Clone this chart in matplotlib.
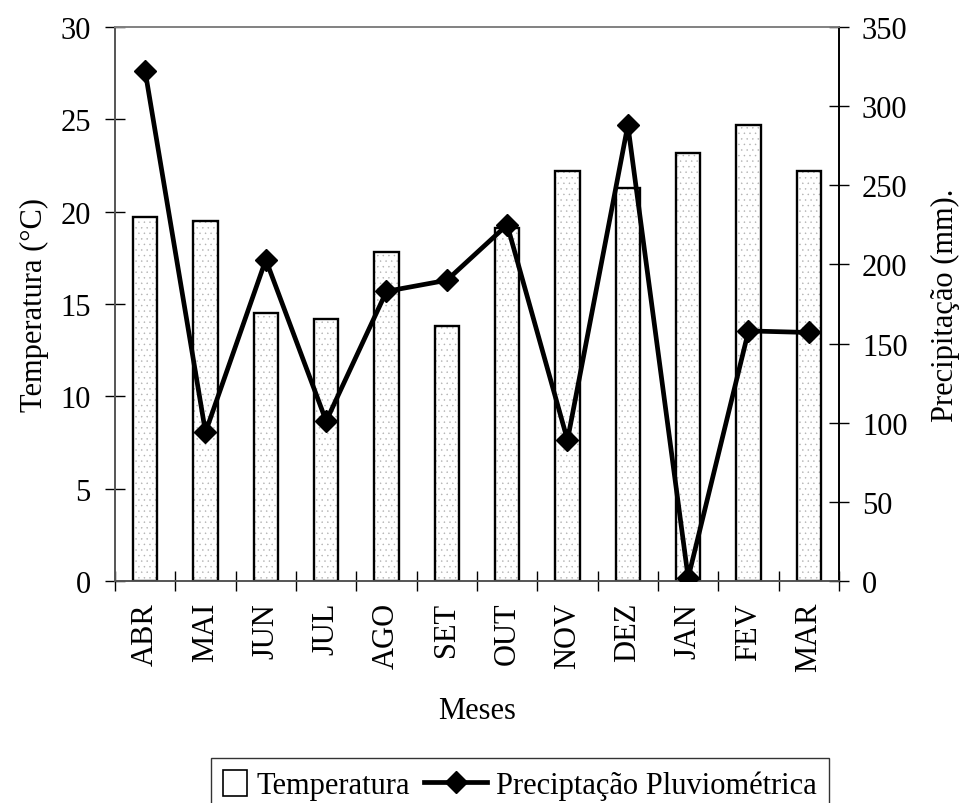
import numpy as np
import matplotlib
matplotlib.use('Agg')
import matplotlib.pyplot as plt
from matplotlib.patches import Rectangle
from matplotlib.lines import Line2D
from matplotlib.legend_handler import HandlerPatch, HandlerLine2D

meses = ['ABR', 'MAI', 'JUN', 'JUL', 'AGO', 'SET', 'OUT', 'NOV', 'DEZ', 'JAN', 'FEV', 'MAR']
temperatura = [19.7, 19.5, 14.5, 14.2, 17.8, 13.8, 19.1, 22.2, 21.3, 23.2, 24.7, 22.2]
precipitacao = [322, 94, 203, 101, 183, 190, 225, 89, 288, 2, 158, 157]

plt.rcParams['font.family'] = ['Liberation Serif', 'DejaVu Serif']
plt.rcParams['font.size'] = 22
plt.rcParams['hatch.linewidth'] = 0.3

fig = plt.figure(figsize=(9.59, 8.04), dpi=100)
ax = fig.add_axes([115 / 959, 1 - 582 / 804, 724 / 959, 554 / 804])
ax2 = ax.twinx()

x = np.arange(len(meses))

# barras: pontilhado cinza + contorno preto
ax.bar(x, temperatura, width=0.4, color='white', edgecolor='#b0b0b0',
       hatch='...', linewidth=0, zorder=2)
ax.bar(x, temperatura, width=0.4, fill=False, edgecolor='black',
       linewidth=1.7, zorder=3)

linha, = ax2.plot(x, precipitacao, color='black', linewidth=3.4,
                  marker='D', markersize=11, zorder=4)

ax.set_xlim(-0.5, len(meses) - 0.5)
ax.set_ylim(0, 30)
ax2.set_ylim(0, 350)
ax.set_yticks(np.arange(0, 31, 5))
ax2.set_yticks(np.arange(0, 351, 50))

ax.set_xticks(x)
ax.set_xticklabels(meses, rotation=90)
ax.set_xticks(np.arange(-0.5, len(meses), 1), minor=True)
ax.tick_params(axis='x', which='major', length=0, pad=15)
ax.tick_params(axis='x', which='minor', direction='inout', length=15, width=1)
ax.tick_params(axis='y', direction='inout', length=15, width=1, pad=10)
ax2.tick_params(axis='y', direction='inout', length=15, width=1, pad=9)

for s in ['top', 'bottom', 'left']:
    ax.spines[s].set_color('#555555')
    ax2.spines[s].set_color('#555555')
ax2.spines['top'].set_color('#888888')
ax2.spines['right'].set_color('black')
for a in (ax, ax2):
    for s in a.spines.values():
        s.set_linewidth(1.2)

ax.set_xlabel('Meses', labelpad=18)
ax.set_ylabel('Temperatura (°C)', labelpad=8)
ax2.set_ylabel('Precipitação (mm).', labelpad=17)


# legenda: caixa pequena e linha mais comprida (como no Excel)
# (unidades da caixa da legenda em pontos)
def caixa(legend, orig_handle, xdescent, ydescent, width, height, fontsize):
    return Rectangle((-xdescent, -ydescent - 2), width, height + 3)


class LinhaLonga(HandlerLine2D):
    def get_xdata(self, legend, xdescent, ydescent, width, height, fontsize):
        esq = 28
        xdata = np.array([-xdescent - esq, -xdescent + width])
        return xdata, np.array([-xdescent + (width - esq) / 2])


h_temp = Rectangle((0, 0), 1, 1, facecolor='white', edgecolor='black',
                   linewidth=1.2)
leg = fig.legend([h_temp, linha], ['Temperatura', 'Preciptação Pluviométrica'],
                 handler_map={Rectangle: HandlerPatch(patch_func=caixa),
                              Line2D: LinhaLonga()},
                 loc='upper right', bbox_to_anchor=(829 / 959, 1 - 759 / 804),
                 ncol=2, frameon=True, fancybox=False, edgecolor='black',
                 handlelength=0.78, handletextpad=0.3, columnspacing=1.75,
                 borderpad=0.4, borderaxespad=0, fontsize=22)
leg.get_frame().set_linewidth(1.0)

fig.savefig('out.png', dpi=100)
